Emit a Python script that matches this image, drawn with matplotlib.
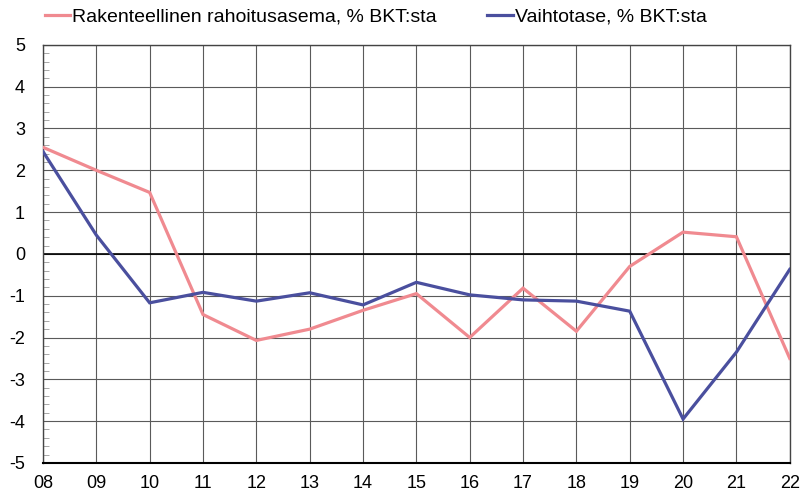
import matplotlib
matplotlib.use("Agg")
import matplotlib.pyplot as plt
from matplotlib.ticker import MultipleLocator
from matplotlib.lines import Line2D

plt.rcParams["font.family"] = ["Liberation Sans", "DejaVu Sans"]
plt.rcParams["axes.unicode_minus"] = False

years = ["08", "09", "10", "11", "12", "13", "14", "15",
         "16", "17", "18", "19", "20", "21", "22"]
rakenteellinen = [2.55, 2.0, 1.47, -1.45, -2.07, -1.8, -1.35, -0.95,
                  -2.0, -0.82, -1.85, -0.3, 0.52, 0.41, -2.5]
vaihtotase = [2.45, 0.45, -1.17, -0.92, -1.13, -0.93, -1.22, -0.68,
              -0.98, -1.1, -1.13, -1.37, -3.95, -2.35, -0.37]

PINK = "#f08a90"
BLUE = "#4a4f9e"

fig = plt.figure(figsize=(8.03, 4.93), dpi=100)
ax = fig.add_axes([0.0535, 0.061, 0.930, 0.848])

x = list(range(len(years)))
ax.plot(x, rakenteellinen, color=PINK, lw=2.3, zorder=5,
        solid_joinstyle="miter")
ax.plot(x, vaihtotase, color=BLUE, lw=2.3, zorder=6,
        solid_joinstyle="miter")

ax.set_xlim(0, len(years) - 1)
ax.set_ylim(-5, 5)
ax.set_xticks(x)
ax.set_xticklabels(years)
ax.set_yticks(range(-5, 6))
ax.yaxis.set_minor_locator(MultipleLocator(0.2))
ax.tick_params(axis="both", which="major", length=0, labelsize=13,
               colors="black")
ax.tick_params(axis="y", which="major", pad=13)
ax.tick_params(axis="x", which="major", pad=9)
ax.tick_params(axis="y", which="minor", direction="in", length=4,
               color="#999999", width=0.6)
ax.tick_params(axis="x", which="minor", length=0)

ax.grid(True, which="major", color="#5a5a5a", lw=0.8, zorder=1)
ax.axhline(0, color="black", lw=1.2, zorder=2)
for s in ax.spines.values():
    s.set_color("#444444")
    s.set_linewidth(1.0)
ax.spines["bottom"].set_color("black")
ax.spines["bottom"].set_linewidth(1.5)

handles = [Line2D([], [], color=PINK, lw=2.3),
           Line2D([], [], color=BLUE, lw=2.3)]
labels = ["Rakenteellinen rahoitusasema, % BKT:sta",
          "Vaihtotase, % BKT:sta"]
fig.legend(handles, labels, loc="upper left",
           bbox_to_anchor=(45 / 803, 1 - 8 / 493),
           ncol=2, frameon=False, fontsize=14, handlelength=1.3,
           handletextpad=0.1, columnspacing=2.6, borderaxespad=0,
           borderpad=0)

fig.savefig("out.png", dpi=100)
